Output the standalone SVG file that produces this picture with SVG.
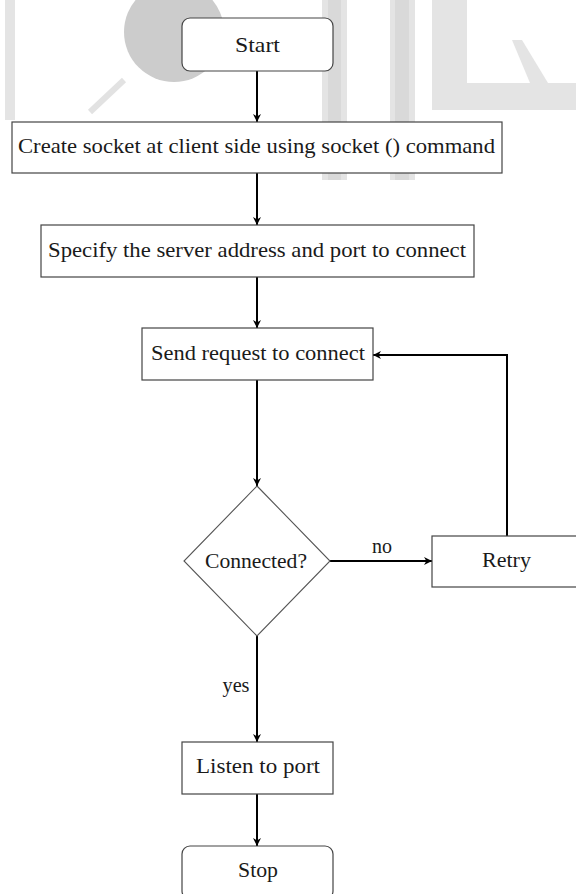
<svg xmlns="http://www.w3.org/2000/svg" width="576" height="894" viewBox="0 0 576 894">
<style>
.box{fill:#ffffff;stroke:#444444;stroke-width:1.2}
.dia{fill:#ffffff;stroke:#555555;stroke-width:1.1}
.lbl{font-family:"Liberation Serif","Times New Roman",serif;font-size:22px;fill:#1a1a1a;text-anchor:middle}
.edge{fill:none;stroke:#000000;stroke-width:2}
.wm{fill:#e4e4e4;stroke:none}
.wm2{fill:#d9d9d9;stroke:none}
</style>
<defs>
<marker id="ah" viewBox="0 0 10 10" refX="10" refY="5" markerWidth="8" markerHeight="8" markerUnits="userSpaceOnUse" orient="auto">
<path d="M0,0 L10,5 L0,10 L3,5 Z" fill="#000000"/>
</marker>
</defs>
<g id="watermark">
<rect class="wm" x="5" y="0" width="10" height="120"/>
<circle cx="174" cy="32" r="50" fill="#cccccc"/>
<path d="M90,112 L124,80" stroke="#e2e2e2" stroke-width="6" fill="none"/>
<rect class="wm" x="322" y="0" width="25" height="180"/>
<rect class="wm2" x="328" y="0" width="13" height="180"/>
<rect class="wm" x="390" y="0" width="25" height="180"/>
<rect class="wm2" x="395" y="0" width="14" height="180"/>
<rect class="wm" x="432" y="0" width="35" height="110"/>
<rect class="wm" x="432" y="83" width="144" height="27"/>
<path class="wm" d="M512,40 L522,40 L548,83 L530,83 Z"/>
</g>
<g id="connectors">
<path class="edge" d="M257,71 L257,122" marker-end="url(#ah)"/>
<path class="edge" d="M257,173 L257,225" marker-end="url(#ah)"/>
<path class="edge" d="M257,277 L257,328" marker-end="url(#ah)"/>
<path class="edge" d="M257,380 L257,486" marker-end="url(#ah)"/>
<path class="edge" d="M330,561 L432,561" marker-end="url(#ah)"/>
<path class="edge" d="M507,536 L507,355 L373,355" marker-end="url(#ah)"/>
<path class="edge" d="M257,636 L257,742" marker-end="url(#ah)"/>
<path class="edge" d="M257,794 L257,846" marker-end="url(#ah)"/>
<text class="lbl" x="382" y="553" textLength="20" lengthAdjust="spacingAndGlyphs">no</text>
<text class="lbl" x="236" y="692" textLength="27" lengthAdjust="spacingAndGlyphs">yes</text>
</g>
<g id="start">
<rect class="box" x="182" y="18" width="151" height="53" rx="8"/>
<text class="lbl" x="257.5" y="52" textLength="45" lengthAdjust="spacingAndGlyphs">Start</text>
</g>
<g id="create">
<rect class="box" x="12" y="122" width="490" height="51"/>
<text class="lbl" x="256.5" y="153" textLength="477" lengthAdjust="spacingAndGlyphs">Create socket at client side using socket () command</text>
</g>
<g id="specify">
<rect class="box" x="41" y="225" width="433" height="52"/>
<text class="lbl" x="257" y="257" textLength="418" lengthAdjust="spacingAndGlyphs">Specify the server address and port to connect</text>
</g>
<g id="send">
<rect class="box" x="142" y="328" width="231" height="52"/>
<text class="lbl" x="258" y="360" textLength="214" lengthAdjust="spacingAndGlyphs">Send request to connect</text>
</g>
<g id="connected">
<path class="dia" d="M257,486 L330,561 L257,636 L184,561 Z"/>
<text class="lbl" x="256" y="568" textLength="102" lengthAdjust="spacingAndGlyphs">Connected?</text>
</g>
<g id="retry">
<rect class="box" x="432" y="536" width="160" height="51"/>
<text class="lbl" x="506.5" y="567" textLength="49" lengthAdjust="spacingAndGlyphs">Retry</text>
</g>
<g id="listen">
<rect class="box" x="182" y="742" width="151" height="52"/>
<text class="lbl" x="258" y="773" textLength="124" lengthAdjust="spacingAndGlyphs">Listen to port</text>
</g>
<g id="stop">
<rect class="box" x="182" y="846" width="151" height="53" rx="8"/>
<text class="lbl" x="258" y="877" textLength="40" lengthAdjust="spacingAndGlyphs">Stop</text>
</g>
</svg>
